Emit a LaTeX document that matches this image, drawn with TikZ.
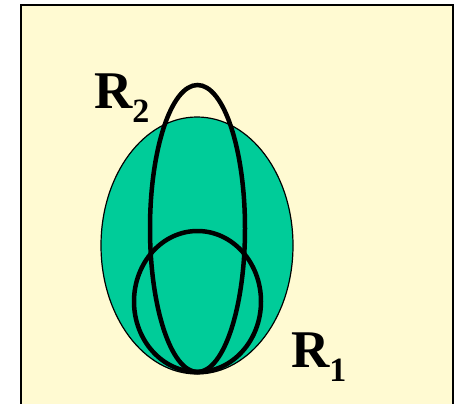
\documentclass[tikz,border=0pt]{standalone}
\usepackage{fontspec}
\setmainfont{Liberation Serif}
\usepackage{xcolor}
\usetikzlibrary{positioning}
\definecolor{paper}{RGB}{255,250,210}
\definecolor{region}{RGB}{0,204,153}
\newcommand{\rlabel}[1]{\textbf{R\raisebox{-14pt}{\fontsize{34}{34}\selectfont #1}}}

\begin{document}
\begin{tikzpicture}[x=1pt,y=-1pt,
    ring/.style={draw=black,line width=4.5pt},
    lbl/.style={anchor=base west,inner sep=0pt,font=\fontsize{53}{60}\selectfont}]
    \useasboundingbox (0,0) rectangle (458,404);
    % frame
    \fill[white] (0,0) rectangle (458,404);
    \draw[line width=2pt,fill=paper] (21,5) rectangle (453,420);
    % whole space
    \draw[line width=1.2pt,fill=region] (197,245.5) ellipse [x radius=96,y radius=128.5];
    % the two regions
    \draw[ring] (197.5,228.5) ellipse [x radius=47.5,y radius=143.5];
    \draw[ring] (197.5,301.5) ellipse [x radius=63.5,y radius=70.5];
    \node[lbl] (r2) at (94,108) {\rlabel{2}};
    \node[lbl] (r1) at (291,367) {\rlabel{1}};
\end{tikzpicture}
\end{document}
